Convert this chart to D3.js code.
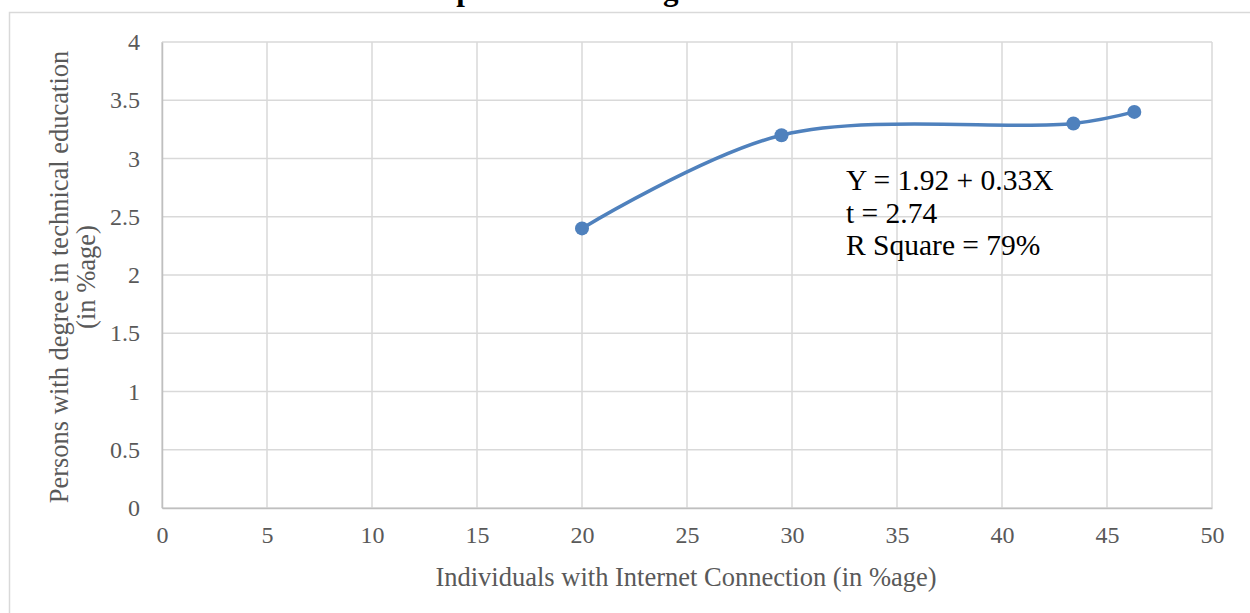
<!DOCTYPE html>
<html>
<head>
<meta charset="utf-8">
<script src="https://cdn.jsdelivr.net/npm/d3@7"></script>
<style>
  html, body { margin: 0; padding: 0; background: #fff; }
  svg { display: block; font-family: "Liberation Serif", "Times New Roman", serif; }
</style>
</head>
<body>
<svg id="chart" width="1250" height="613"></svg>
<script>
// ---- data ----
const xValues = [20, 29.5, 43.4, 46.3];
const yValues = [2.4, 3.2, 3.3, 3.4];
const xTicks = [0, 5, 10, 15, 20, 25, 30, 35, 40, 45, 50];
const yTicks = [0, 0.5, 1, 1.5, 2, 2.5, 3, 3.5, 4];
const titleText = "connections and persons with degree in technical education";
const xTitle = "Individuals with Internet Connection (in %age)";
const yTitleLines = ["Persons with degree in technical education", "(in %age)"];
const annotation = ["Y = 1.92 + 0.33X", "t = 2.74", "R Square = 79%"];

const svg = d3.select("#chart");
const plot = { left: 162, right: 1212, top: 42, bottom: 508 };

const x = d3.scaleLinear().domain([0, 50]).range([plot.left, plot.right]);
const y = d3.scaleLinear().domain([0, 4]).range([plot.bottom, plot.top]);

// outer frame
svg.append("rect")
  .attr("x", 9.5).attr("y", 12.5)
  .attr("width", 1260).attr("height", 620)
  .attr("fill", "none").attr("stroke", "#d9d9d9").attr("stroke-width", 1.5);

// title (mostly clipped at the top, as in the reference)
svg.append("text")
  .attr("x", 626).attr("y", 0)
  .attr("text-anchor", "middle")
  .attr("font-weight", "bold")
  .attr("font-size", 31)
  .attr("fill", "#000")
  .text(titleText);

// gridlines
svg.append("g").selectAll("line").data(xTicks).join("line")
  .attr("x1", d => x(d)).attr("x2", d => x(d))
  .attr("y1", plot.top).attr("y2", plot.bottom)
  .attr("stroke", "#d9d9d9").attr("stroke-width", 1.5);
svg.append("g").selectAll("line").data(yTicks).join("line")
  .attr("x1", plot.left).attr("x2", plot.right)
  .attr("y1", d => y(d)).attr("y2", d => y(d))
  .attr("stroke", "#d9d9d9").attr("stroke-width", 1.5);

// axes
const xAxis = d3.axisBottom(x).tickValues(xTicks).tickSize(0).tickPadding(18).tickFormat(d3.format("d"));
const gx = svg.append("g").attr("transform", `translate(0,${plot.bottom})`).call(xAxis);
gx.select(".domain").attr("stroke", "#bfbfbf").attr("stroke-width", 1.5);
gx.selectAll("text").attr("font-family", "Liberation Serif, serif").attr("font-size", 24).attr("fill", "#595959");

const yAxis = d3.axisLeft(y).tickValues(yTicks).tickSize(0).tickPadding(22).tickFormat(d => String(d));
const gy = svg.append("g").attr("transform", `translate(${plot.left},0)`).call(yAxis);
gy.select(".domain").attr("stroke", "#bfbfbf").attr("stroke-width", 1.5);
gy.selectAll("text").attr("font-family", "Liberation Serif, serif").attr("font-size", 24).attr("fill", "#595959");

// axis titles
svg.append("text")
  .attr("x", 686).attr("y", 586)
  .attr("text-anchor", "middle").attr("font-size", 26.5).attr("fill", "#595959")
  .text(xTitle);

const yt = svg.append("text")
  .attr("transform", "translate(68,277) rotate(-90)")
  .attr("text-anchor", "middle").attr("font-size", 26.5).attr("fill", "#595959");
yTitleLines.forEach((t, i) => {
  yt.append("tspan").attr("x", 0).attr("dy", i === 0 ? 0 : 27).text(t);
});

// series
const pts = xValues.map((v, i) => [v, yValues[i]]);
const line = d3.line().x(d => x(d[0])).y(d => y(d[1])).curve(d3.curveCatmullRom.alpha(0.5));
svg.append("path").datum(pts)
  .attr("d", line).attr("fill", "none")
  .attr("stroke", "#4f81bd").attr("stroke-width", 3.5).attr("stroke-linecap", "round");
svg.append("g").selectAll("circle").data(pts).join("circle")
  .attr("cx", d => x(d[0])).attr("cy", d => y(d[1])).attr("r", 7)
  .attr("fill", "#4f81bd");

// annotation
const ann = svg.append("text").attr("x", 846).attr("y", 190)
  .attr("font-size", 29.5).attr("fill", "#000");
annotation.forEach((t, i) => {
  ann.append("tspan").attr("x", 846).attr("dy", i === 0 ? 0 : 32.5).text(t);
});
</script>
</body>
</html>
